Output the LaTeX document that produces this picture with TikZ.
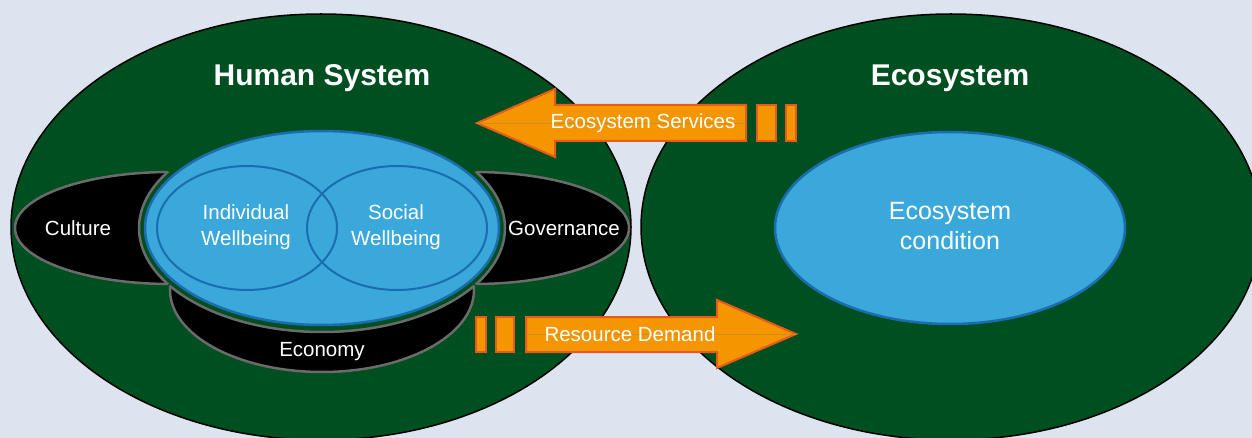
\documentclass[tikz,border=0pt]{standalone}
\usepackage{fontspec}
\setmainfont{Liberation Sans}
\usetikzlibrary{shapes.geometric}
\definecolor{bg}{HTML}{DCE4F0}
\definecolor{dkgreen}{HTML}{004F20}
\definecolor{skyblue}{HTML}{3AA8DB}
\definecolor{bluedk}{HTML}{1B6DAF}
\definecolor{orfill}{HTML}{F59500}
\definecolor{orline}{HTML}{E85A1B}
\definecolor{midline}{HTML}{C8901E}
\definecolor{greyline}{HTML}{6B6B6B}
\begin{document}
\begin{tikzpicture}[x=1pt,y=-1pt,
  sysell/.style={ellipse, draw=black, line width=1.5pt, fill=dkgreen, inner sep=0pt,
    minimum width=620pt, minimum height=426pt},
  blackell/.style={ellipse, draw=greyline, line width=2.5pt, fill=black, inner sep=0pt},
  lbl/.style={text=white, font=\fontsize{20.5}{26}\selectfont, align=center, inner sep=0pt},
  title/.style={text=white, font=\fontsize{30}{34}\selectfont\bfseries, inner sep=0pt},
  arrowsty/.style={fill=orfill, draw=orline, line width=2pt, line join=miter},
  mid/.style={draw=midline, line width=0.7pt}]
\fill[bg] (0,0) rectangle (1252,438);
\useasboundingbox (0,0) rectangle (1252,438);

% big system ellipses
\node[sysell] (human) at (321,227) {};
\node[sysell] (eco) at (951,227) {};

% black domain shapes
\node[blackell, minimum width=310pt, minimum height=112pt] (culture) at (170,228) {};
\node[blackell, minimum width=310pt, minimum height=112pt] (governance) at (474,228) {};
\node[blackell, minimum width=304pt, minimum height=164pt] (economy) at (322,290) {};

% green halo cutting the black shapes
\node[ellipse, fill=dkgreen, inner sep=0pt, minimum width=366pt, minimum height=208pt] (halo) at (322,228) {};
\begin{scope}
  \clip (170,228) ellipse [x radius=155pt, y radius=56pt];
  \draw[greyline, line width=2.5pt] (322,228) ellipse [x radius=183pt, y radius=104pt];
\end{scope}
\begin{scope}
  \clip (474,228) ellipse [x radius=155pt, y radius=56pt];
  \draw[greyline, line width=2.5pt] (322,228) ellipse [x radius=183pt, y radius=104pt];
\end{scope}
\begin{scope}
  \clip (322,290) ellipse [x radius=152pt, y radius=82pt];
  \draw[greyline, line width=2.5pt] (322,228) ellipse [x radius=183pt, y radius=104pt];
\end{scope}

\node[lbl] (culturetxt) at (78,228) {Culture};
\node[lbl] (govtxt) at (564,228) {Governance};
\node[lbl] (econtxt) at (322,352) {Economy};

% wellbeing
\node[ellipse, fill=skyblue, draw=bluedk, line width=2.5pt, inner sep=0pt,
  minimum width=354pt, minimum height=194pt] (wellbeing) at (322,228) {};
\node[ellipse, draw=bluedk, line width=2pt, inner sep=0pt,
  minimum width=180pt, minimum height=124pt] (indiv) at (247,228) {};
\node[ellipse, draw=bluedk, line width=2pt, inner sep=0pt,
  minimum width=180pt, minimum height=124pt] (social) at (397,228) {};
\node[lbl] (indivtxt) at (246,227) {Individual\\Wellbeing};
\node[lbl] (socialtxt) at (396,227) {Social\\Wellbeing};

% ecosystem condition
\node[ellipse, fill=skyblue, draw=bluedk, line width=2.5pt, inner sep=0pt,
  minimum width=350pt, minimum height=192pt] (cond) at (950,228) {};
\node[text=white, font=\fontsize{25}{30}\selectfont, align=center, inner sep=0pt] (condtxt) at (950,226) {Ecosystem\\condition};

% titles
\node[title] (humantitle) at (322,78) {Human System};
\node[title] (ecotitle) at (950,78) {Ecosystem};

% Ecosystem Services arrow (pointing left)
\coordinate (estip) at (477,123);
\coordinate (esend) at (746,123);
\filldraw[arrowsty] (estip) -- (555,89) -- (555,105) -- (746,105) -- (746,141) -- (555,141) -- (555,157) -- cycle;
\filldraw[arrowsty] (757,105) rectangle (776,141);
\filldraw[arrowsty] (786,105) rectangle (796,141);
\draw[mid] (estip) -- (esend);
\node[lbl] (estxt) at (643,123) {Ecosystem Services};

% Resource Demand arrow (pointing right)
\coordinate (rdstart) at (526,334);
\coordinate (rdtip) at (796,334);
\filldraw[arrowsty] (526,317) -- (717,317) -- (717,300) -- (rdtip) -- (717,368) -- (717,352) -- (526,352) -- cycle;
\filldraw[arrowsty] (476,317) rectangle (486,352);
\filldraw[arrowsty] (496,317) rectangle (514,352);
\draw[mid] (rdstart) -- (rdtip);
\node[lbl] (rdtxt) at (630,334) {Resource Demand};
\end{tikzpicture}
\end{document}
